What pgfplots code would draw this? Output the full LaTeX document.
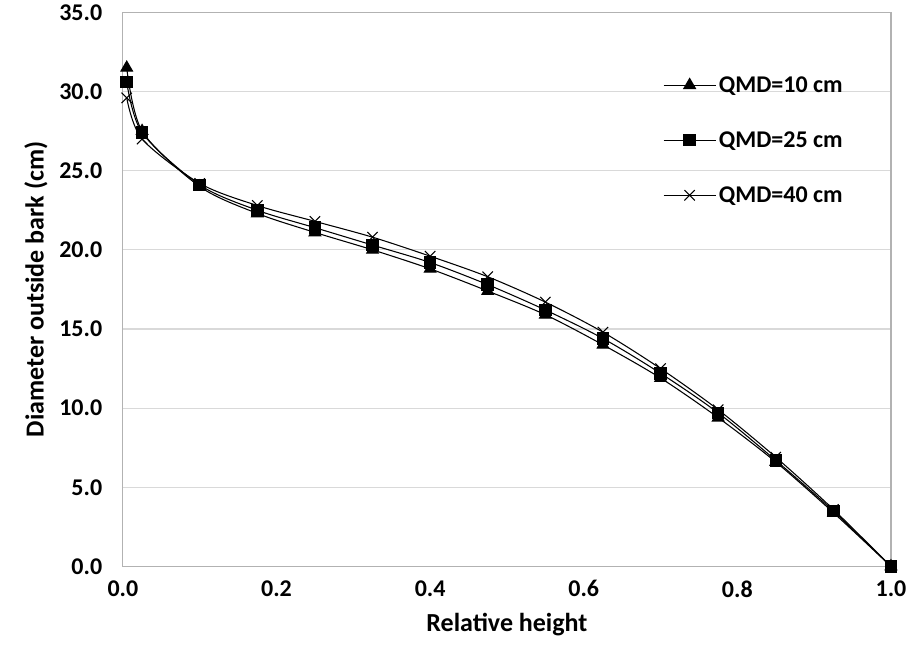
\documentclass[border=0pt]{standalone}
\usepackage{pgfplots}
\pgfplotsset{compat=1.18}
\usepackage{fontspec}
\setmainfont{Carlito}
\begin{document}
\begin{tikzpicture}
\begin{axis}[
  scale only axis,
  width=576pt, height=415.5pt,
  xmin=0, xmax=1, ymin=0, ymax=35,
  xtick={0,0.2,0.4,0.6,0.8,1.0},
  ytick={0,5,10,15,20,25,30,35},
  /pgf/number format/assume math mode=true,
  /pgf/number format/fixed,
  /pgf/number format/fixed zerofill,
  /pgf/number format/precision=1,
  tick label style={font=\fontsize{18}{20}\selectfont\bfseries},
  label style={font=\fontsize{19.5}{22}\selectfont\bfseries},
  major tick length=0pt,
  ymajorgrids,
  grid style={draw=black!15, line width=0.8pt},
  axis line style={draw=black!30, line width=0.8pt},
  xlabel={Relative height},
  ylabel={Diameter outside bark (cm)},
  xlabel style={yshift=-5pt},
  ylabel style={yshift=2pt},
  xticklabel style={yshift=-7pt},
  yticklabel style={xshift=-12pt},
  clip=false,
  legend style={draw=none, fill=none, at={(rel axis cs:0.703,0.89)}, anchor=north west,
    font=\fontsize{18}{20}\selectfont\bfseries, row sep=24pt, inner sep=0pt,
    cells={anchor=west}},
  legend image code/.code={\draw[mark repeat=2,mark phase=2] plot coordinates {(0cm,0cm) (0.685cm,0cm) (1.37cm,0cm)};},
  every axis plot/.append style={black, line width=0.8pt, smooth, tension=0.5},
]
\path (rel axis cs:-0.160,-0.166) rectangle (rel axis cs:1.0378,1.0217);
\addplot[mark=triangle*, mark size=5pt] coordinates {
(0.005,31.5) (0.025,27.5) (0.1,24.0) (0.175,22.3) (0.25,21.1) (0.325,20.0) (0.4,18.8) (0.475,17.4) (0.55,15.9) (0.625,14.0) (0.7,11.9) (0.775,9.4) (0.85,6.6) (0.925,3.4) (1.0,0)};
\addlegendentry{QMD=10 cm}
\addplot[mark=square*, mark size=4.3pt] coordinates {
(0.005,30.6) (0.025,27.4) (0.1,24.1) (0.175,22.5) (0.25,21.4) (0.325,20.3) (0.4,19.2) (0.475,17.8) (0.55,16.2) (0.625,14.4) (0.7,12.2) (0.775,9.7) (0.85,6.7) (0.925,3.5) (1.0,0)};
\addlegendentry{QMD=25 cm}
\addplot[mark=x, mark size=5.5pt, mark options={line width=0.8pt}] coordinates {
(0.005,29.6) (0.025,27.0) (0.1,24.2) (0.175,22.8) (0.25,21.8) (0.325,20.8) (0.4,19.6) (0.475,18.3) (0.55,16.7) (0.625,14.8) (0.7,12.5) (0.775,9.9) (0.85,6.9) (0.925,3.6) (1.0,0)};
\addlegendentry{QMD=40 cm}
\end{axis}
\end{tikzpicture}
\end{document}
